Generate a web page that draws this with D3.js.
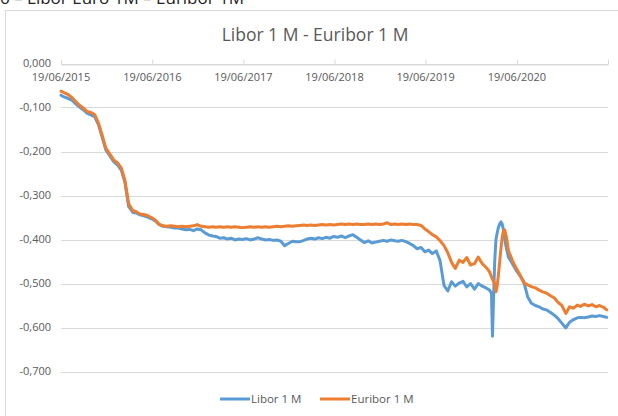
<!DOCTYPE html>
<html><head><meta charset="utf-8">
<script src="https://cdn.jsdelivr.net/npm/d3@7"></script>
<style>html,body{margin:0;padding:0;background:#fff;overflow:hidden}</style>
</head><body>
<svg id="chart" width="618" height="416"></svg>
<script>
const dates = [
"2015-06-19","2015-07-01","2015-07-16","2015-08-01","2015-08-16","2015-09-01","2015-09-16","2015-10-01","2015-10-16","2015-11-01","2015-11-16","2015-12-01","2015-12-16",
"2016-01-01","2016-01-16","2016-02-01","2016-02-16","2016-03-01","2016-03-16","2016-04-01","2016-04-16","2016-05-01","2016-05-16","2016-06-01","2016-06-16",
"2016-07-01","2016-07-16","2016-08-01","2016-08-16","2016-09-01","2016-09-16","2016-10-01","2016-10-16","2016-11-01","2016-11-16","2016-12-01","2016-12-16",
"2017-01-01","2017-01-16","2017-02-01","2017-02-16","2017-03-01","2017-03-16","2017-04-01","2017-04-16","2017-05-01","2017-05-16","2017-06-01","2017-06-16",
"2017-07-01","2017-07-16","2017-08-01","2017-08-16","2017-09-01","2017-09-16","2017-10-01","2017-10-16","2017-11-01","2017-11-16","2017-12-01","2017-12-16",
"2018-01-01","2018-01-16","2018-02-01","2018-02-16","2018-03-01","2018-03-16","2018-04-01","2018-04-16","2018-05-01","2018-05-16","2018-06-01","2018-06-16",
"2018-07-01","2018-07-16","2018-08-01","2018-08-16","2018-09-01","2018-09-16","2018-10-01","2018-10-16","2018-11-01","2018-11-16","2018-12-01","2018-12-16",
"2019-01-01","2019-01-16","2019-02-01","2019-02-16","2019-03-01","2019-03-16","2019-04-01","2019-04-16","2019-05-01","2019-05-16","2019-06-01","2019-06-16",
"2019-07-01","2019-07-16","2019-08-01","2019-08-16","2019-09-01","2019-09-16","2019-10-01","2019-10-16","2019-11-01","2019-11-16","2019-12-01","2019-12-16",
"2020-01-01","2020-01-16","2020-02-01","2020-02-16","2020-03-01","2020-03-09","2020-03-13","2020-03-17","2020-03-22","2020-03-27","2020-04-01","2020-04-06",
"2020-04-11","2020-04-16","2020-04-21","2020-04-26","2020-05-01","2020-05-08","2020-05-16","2020-06-01","2020-06-16",
"2020-07-01","2020-07-16","2020-08-01","2020-08-16","2020-09-01","2020-09-16","2020-10-01","2020-10-16","2020-11-01","2020-11-16","2020-12-01","2020-12-16",
"2021-01-01","2021-01-16","2021-02-01","2021-02-16","2021-03-01","2021-03-16","2021-04-01","2021-04-16","2021-05-01","2021-05-16","2021-06-01","2021-06-14"
];
const libor = [
-0.072,-0.076,-0.079,-0.083,-0.091,-0.099,-0.105,-0.113,-0.117,-0.121,-0.139,-0.168,-0.197,
-0.210,-0.223,-0.231,-0.243,-0.270,-0.325,-0.338,-0.340,-0.344,-0.346,-0.349,-0.353,
-0.358,-0.366,-0.370,-0.371,-0.372,-0.374,-0.374,-0.376,-0.378,-0.377,-0.380,-0.376,
-0.378,-0.385,-0.390,-0.392,-0.393,-0.397,-0.396,-0.399,-0.397,-0.401,-0.399,-0.400,
-0.398,-0.401,-0.399,-0.396,-0.399,-0.401,-0.400,-0.402,-0.401,-0.404,-0.414,-0.409,
-0.404,-0.405,-0.405,-0.402,-0.399,-0.397,-0.399,-0.396,-0.398,-0.395,-0.397,-0.393,
-0.395,-0.392,-0.396,-0.392,-0.389,-0.395,-0.401,-0.407,-0.403,-0.408,-0.406,-0.404,
-0.402,-0.404,-0.401,-0.403,-0.404,-0.402,-0.405,-0.409,-0.414,-0.421,-0.418,-0.428,
-0.424,-0.432,-0.426,-0.448,-0.505,-0.517,-0.496,-0.506,-0.499,-0.495,-0.508,-0.500,
-0.513,-0.500,-0.506,-0.510,-0.515,-0.522,-0.620,-0.540,-0.450,-0.400,-0.385,-0.372,
-0.365,-0.360,-0.365,-0.378,-0.400,-0.420,-0.440,-0.455,-0.470,
-0.482,-0.495,-0.530,-0.545,-0.550,-0.553,-0.558,-0.560,-0.566,-0.572,-0.580,-0.590,
-0.601,-0.588,-0.582,-0.578,-0.577,-0.578,-0.576,-0.574,-0.575,-0.573,-0.575,-0.577
];
const euribor = [
-0.063,-0.066,-0.070,-0.077,-0.086,-0.095,-0.101,-0.109,-0.111,-0.116,-0.135,-0.163,-0.193,
-0.206,-0.219,-0.226,-0.238,-0.265,-0.318,-0.334,-0.337,-0.342,-0.343,-0.346,-0.350,
-0.356,-0.365,-0.369,-0.370,-0.369,-0.370,-0.371,-0.370,-0.371,-0.370,-0.369,-0.366,
-0.370,-0.371,-0.372,-0.371,-0.372,-0.371,-0.372,-0.371,-0.372,-0.371,-0.372,-0.373,
-0.372,-0.371,-0.372,-0.371,-0.372,-0.371,-0.372,-0.371,-0.370,-0.371,-0.370,-0.369,
-0.370,-0.369,-0.368,-0.367,-0.368,-0.367,-0.368,-0.367,-0.366,-0.367,-0.366,-0.367,
-0.366,-0.365,-0.366,-0.365,-0.366,-0.365,-0.366,-0.366,-0.365,-0.366,-0.365,-0.366,
-0.365,-0.362,-0.366,-0.365,-0.366,-0.365,-0.366,-0.365,-0.366,-0.366,-0.368,-0.376,
-0.382,-0.389,-0.394,-0.403,-0.414,-0.430,-0.452,-0.466,-0.447,-0.452,-0.441,-0.458,
-0.455,-0.440,-0.455,-0.463,-0.473,-0.485,-0.490,-0.495,-0.500,-0.519,-0.505,-0.480,
-0.450,-0.420,-0.395,-0.380,-0.378,-0.395,-0.425,-0.448,-0.465,
-0.480,-0.498,-0.503,-0.507,-0.510,-0.515,-0.519,-0.522,-0.528,-0.533,-0.543,-0.550,
-0.568,-0.553,-0.556,-0.549,-0.552,-0.547,-0.551,-0.548,-0.553,-0.550,-0.554,-0.560
];
const tickDates = ["2015-06-19","2016-06-19","2017-06-19","2018-06-19","2019-06-19","2020-06-19","2021-06-19"];
const tickLabels = ["19/06/2015","19/06/2016","19/06/2017","19/06/2018","19/06/2019","19/06/2020",""];
const yTicks = [0,-0.1,-0.2,-0.3,-0.4,-0.5,-0.6,-0.7];
const seriesNames = ["Libor 1 M","Euribor 1 M"];
const colors = ["#5b9bd5","#ed7d31"];

const parse = d3.timeParse("%Y-%m-%d");
const svg = d3.select("#chart");
const font = "'Open Sans', 'Liberation Sans', sans-serif";
const grey = "#595959";

// chart frame
svg.append("rect").attr("x",5.5).attr("y",10.5).attr("width",700).attr("height",500)
  .attr("fill","#fff").attr("stroke","#d9d9d9");
// heading of the page, cut off at the top edge as in the reference
svg.append("text").attr("x",0).attr("y",4).attr("font-family",font).attr("font-size",17)
  .attr("fill","#222").text("6 – Libor Euro 1M – Euribor 1M");

const x = d3.scaleTime().domain([parse("2015-06-19"), parse("2021-06-19")]).range([61, 608]);
const y = d3.scaleLinear().domain([-0.7, 0]).range([371.5, 63.5]);

// gridlines
svg.append("g").selectAll("line").data(yTicks).join("line")
  .attr("x1",61).attr("x2",608).attr("y1",d=>Math.round(y(d))+0.5).attr("y2",d=>Math.round(y(d))+0.5)
  .attr("stroke","#d9d9d9").attr("stroke-width",1);

// y labels
const fmt = v => (v===0 ? "0,000" : d3.format(".3f")(v).replace(".",",").replace("−","-"));
svg.append("g").selectAll("text").data(yTicks).join("text")
  .attr("x",51).attr("y",d=>y(d)).attr("dy","0.35em").attr("text-anchor","end")
  .attr("font-family",font).attr("font-size",11).attr("fill",grey).text(fmt);

// x axis at zero with ticks upward
const xAxis = d3.axisTop(x).tickValues(tickDates.map(parse)).tickFormat("").tickSize(5).tickSizeOuter(0);
const gx = svg.append("g").attr("transform",`translate(0,${Math.round(y(0))+0.5})`).call(xAxis);
gx.select(".domain").attr("stroke","#d9d9d9");
gx.selectAll(".tick line").attr("stroke","#d9d9d9");
svg.append("g").selectAll("text").data(tickDates.map((d,i)=>({d:parse(d),l:tickLabels[i]}))).join("text")
  .attr("x",d=>x(d.d)).attr("y",y(0)+17).attr("text-anchor","middle")
  .attr("font-family",font).attr("font-size",11).attr("fill",grey).text(d=>d.l);

// lines
const line = d3.line().x(d=>x(d[0])).y(d=>y(d[1])).curve(d3.curveLinear);
[libor, euribor].forEach((vals,i)=>{
  const pts = dates.map((d,j)=>[parse(d), vals[j]]);
  svg.append("path").datum(pts).attr("d",line).attr("fill","none")
    .attr("stroke",colors[i]).attr("stroke-width",3).attr("stroke-linejoin","round").attr("stroke-linecap","round");
});

// title
svg.append("text").attr("x",315).attr("y",41).attr("text-anchor","middle")
  .attr("font-family",font).attr("font-size",17.5).attr("fill",grey).text("Libor 1 M - Euribor 1 M");

// legend
const legX = [220, 320];
seriesNames.forEach((n,i)=>{
  const g = svg.append("g");
  g.append("line").attr("x1",legX[i]).attr("x2",legX[i]+30).attr("y1",399).attr("y2",399)
    .attr("stroke",colors[i]).attr("stroke-width",3);
  g.append("text").attr("x",legX[i]+31).attr("y",399).attr("dy","0.35em")
    .attr("font-family",font).attr("font-size",11.5).attr("fill",grey).text(n);
});
</script>
</body></html>
